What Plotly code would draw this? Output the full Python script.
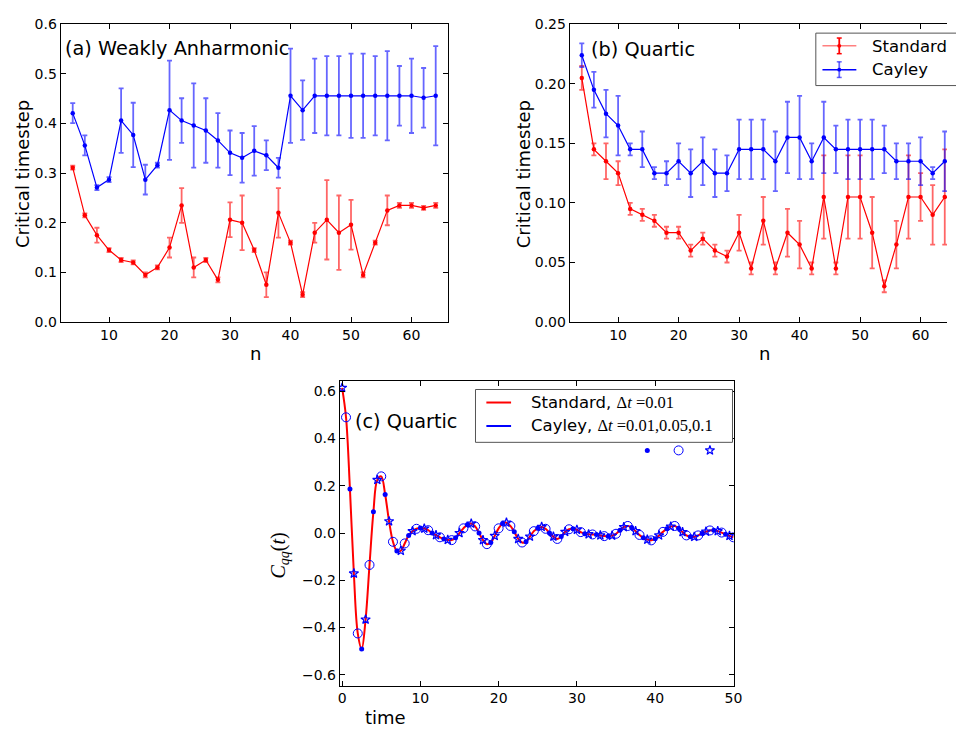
import numpy as np
import plotly.graph_objects as go

W, H = 956, 735
FONT = "DejaVu Sans"

# ---------------- data ----------------
n_vals = list(range(4, 66, 2))

a_cayley = [0.421, 0.356, 0.271, 0.287, 0.406, 0.377, 0.287, 0.316, 0.427, 0.406, 0.396,
            0.386, 0.366, 0.341, 0.331, 0.345, 0.336, 0.311, 0.456, 0.427, 0.456, 0.456,
            0.456, 0.456, 0.456, 0.456, 0.456, 0.456, 0.456, 0.452, 0.456]
a_cayley_err = [0.02, 0.02, 0.005, 0.005, 0.065, 0.065, 0.03, 0.005, 0.1, 0.045, 0.085,
                0.065, 0.055, 0.045, 0.05, 0.05, 0.03, 0.02, 0.095, 0.06, 0.075, 0.08,
                0.08, 0.085, 0.085, 0.08, 0.09, 0.06, 0.075, 0.06, 0.1]
a_standard = [0.311, 0.215, 0.175, 0.145, 0.125, 0.120, 0.095, 0.110, 0.150, 0.235, 0.110,
              0.125, 0.085, 0.206, 0.200, 0.145, 0.075, 0.220, 0.160, 0.055, 0.180, 0.206,
              0.180, 0.196, 0.095, 0.160, 0.225, 0.235, 0.235, 0.230, 0.235]
a_standard_err = [0.004, 0.004, 0.015, 0.004, 0.004, 0.004, 0.005, 0.004, 0.02, 0.035, 0.02,
                  0.004, 0.005, 0.035, 0.055, 0.004, 0.025, 0.05, 0.004, 0.005, 0.02, 0.08,
                  0.075, 0.05, 0.005, 0.004, 0.03, 0.005, 0.005, 0.004, 0.005]

b_cayley = [0.224, 0.195, 0.175, 0.165, 0.145, 0.145, 0.125, 0.125, 0.135, 0.125, 0.135,
            0.125, 0.125, 0.145, 0.145, 0.145, 0.135, 0.155, 0.155, 0.135, 0.155, 0.145,
            0.145, 0.145, 0.145, 0.145, 0.135, 0.135, 0.135, 0.125, 0.135]
b_cayley_err = [0.01, 0.015, 0.02, 0.025, 0.005, 0.015, 0.005, 0.01, 0.015, 0.02, 0.02,
                0.02, 0.015, 0.025, 0.025, 0.025, 0.025, 0.03, 0.035, 0.015, 0.03, 0.02,
                0.025, 0.025, 0.025, 0.02, 0.015, 0.015, 0.02, 0.005, 0.025]
b_standard = [0.205, 0.145, 0.135, 0.125, 0.095, 0.090, 0.085, 0.075, 0.075, 0.060, 0.070,
              0.060, 0.055, 0.075, 0.045, 0.085, 0.045, 0.075, 0.065, 0.045, 0.105, 0.045,
              0.105, 0.105, 0.075, 0.030, 0.065, 0.105, 0.105, 0.090, 0.105]
b_standard_err = [0.01, 0.005, 0.015, 0.01, 0.005, 0.005, 0.005, 0.005, 0.005, 0.005, 0.005,
                  0.005, 0.005, 0.015, 0.005, 0.02, 0.005, 0.02, 0.02, 0.005, 0.035, 0.005,
                  0.035, 0.035, 0.03, 0.005, 0.02, 0.035, 0.02, 0.025, 0.04]

# panel (c): C_qq(t) sampled every 0.5 time units
t_vals = np.arange(0, 50.01, 0.5)
cqq_vals = [0.615, 0.49, 0.186, -0.171, -0.425, -0.491, -0.366, -0.135, 0.090, 0.225,
            0.240, 0.163, 0.050, -0.037, -0.076, -0.075, -0.044, -0.010, 0.008, 0.018,
            0.021, 0.019, 0.012, 0.0, -0.009, -0.018, -0.025, -0.029, -0.030, -0.020,
            0.0, 0.020, 0.035, 0.040, 0.028, 0.0, -0.030, -0.047, -0.040, -0.012,
            0.020, 0.040, 0.044, 0.030, 0.005, -0.025, -0.040, -0.037, -0.015, 0.008,
            0.020, 0.026, 0.018, 0.0, -0.015, -0.025, -0.015, 0.005, 0.016, 0.018,
            0.014, 0.004, -0.003, -0.005, -0.006, -0.006, -0.010, -0.013, -0.014, -0.011,
            -0.003, 0.012, 0.025, 0.030, 0.024, 0.008, -0.008, -0.020, -0.028, -0.031,
            -0.024, -0.010, 0.005, 0.018, 0.027, 0.030, 0.020, 0.004, -0.010, -0.016,
            -0.016, -0.010, -0.002, 0.006, 0.011, 0.012, 0.008, 0.002, -0.005, -0.012,
            -0.018]
cqq = np.array(cqq_vals)
# Cayley samples (dt = 0.1 stars, 0.05 circles, 0.01 dots) lying on the curve
star_t, star_c = t_vals[0::3], cqq[0::3]
circ_t, circ_c = t_vals[1::3], cqq[1::3]
dot_t, dot_c = t_vals[2::3], cqq[2::3]
# marker key shown under the legend
key_t = [39, 43, 47]
key_c = [0.35, 0.35, 0.35]


def px(x):
    return x / W


def py(y):
    return 1 - y / H


RED = "rgb(255,0,0)"
BLUE = "rgb(0,0,255)"
RED_E = "rgba(255,0,0,0.6)"
BLUE_E = "rgba(0,0,255,0.6)"

fig = go.Figure()


def err_trace(x, y, e, col, ecol, xa, ya):
    return go.Scatter(x=x, y=y, mode="lines+markers", xaxis=xa, yaxis=ya,
                      line=dict(color=col, width=1.2),
                      marker=dict(color=col, size=4.5),
                      error_y=dict(type="data", array=e, color=ecol, thickness=1.8, width=2.5),
                      showlegend=False, cliponaxis=True)


fig.add_trace(err_trace(n_vals, a_cayley, a_cayley_err, BLUE, BLUE_E, "x", "y"))
fig.add_trace(err_trace(n_vals, a_standard, a_standard_err, RED, RED_E, "x", "y"))
fig.add_trace(err_trace(n_vals, b_standard, b_standard_err, RED, RED_E, "x2", "y2"))
fig.add_trace(err_trace(n_vals, b_cayley, b_cayley_err, BLUE, BLUE_E, "x2", "y2"))

DOT = dict(color=BLUE, size=5)
CIRC = dict(color=BLUE, size=9, symbol="circle-open", line=dict(width=1))
STAR = dict(color=BLUE, size=7, symbol="star-open", line=dict(width=1.2))

fig.add_trace(go.Scatter(x=t_vals, y=cqq, mode="lines", xaxis="x3", yaxis="y3",
                         line=dict(color=RED, width=2, shape="spline", smoothing=1.0),
                         showlegend=False))
for tt, cc, mk in [(dot_t, dot_c, DOT), (circ_t, circ_c, CIRC), (star_t, star_c, STAR),
                   (key_t[:1], key_c[:1], DOT), (key_t[1:2], key_c[1:2], CIRC),
                   (key_t[2:], key_c[2:], STAR)]:
    fig.add_trace(go.Scatter(x=tt, y=cc, mode="markers", xaxis="x3", yaxis="y3",
                             marker=mk, showlegend=False))

tickfont = dict(family=FONT, size=14, color="black")


def ax(**kw):
    d = dict(showline=True, linecolor="black", linewidth=1, mirror="allticks",
             ticks="inside", ticklen=5, tickwidth=1, tickcolor="black",
             showgrid=False, zeroline=False, tickfont=tickfont)
    d.update(kw)
    return d


fig.update_layout(
    width=W, height=H, margin=dict(l=0, r=0, t=0, b=0),
    paper_bgcolor="white", plot_bgcolor="white", showlegend=False,
    xaxis=ax(domain=[px(59.3), px(451)], range=[2, 66], dtick=10, tick0=0, anchor="y"),
    yaxis=ax(domain=[py(321), py(16.7)], range=[0, 0.6], dtick=0.1, tick0=0,
             tickformat=".1f", anchor="x"),
    xaxis2=ax(domain=[px(574.3), 1.0], range=[2, 2 + (W - 574.3) / 6.12], dtick=10, tick0=0,
              anchor="y2"),
    yaxis2=ax(domain=[py(321), py(16.7)], range=[0, 0.25], dtick=0.05, tick0=0,
              tickformat=".2f", anchor="x2", mirror=False),
    xaxis3=ax(domain=[px(341.7), px(740.3)], range=[-0.3, 50.05], dtick=10, tick0=0,
              anchor="y3"),
    yaxis3=ax(domain=[py(692.7), py(381)], range=[-0.646, 0.645], dtick=0.2, tick0=0,
              tickformat=".1f", anchor="x3"),
)

ann = []


def text(x, y, s, size=18, xanchor="center", angle=0, family=FONT):
    ann.append(dict(x=px(x), y=py(y), xref="paper", yref="paper", text=s, showarrow=False,
                    xanchor=xanchor, yanchor="middle", textangle=angle,
                    font=dict(family=family, size=size, color="black")))


# panel titles
text(62, 41, "(a) Weakly Anharmonic", size=19.3, xanchor="left")
text(594, 42, "(b) Quartic", size=19.3, xanchor="left")
text(355, 423, "(c) Quartic", size=19.3, xanchor="left")
# axis titles
text(21, 170, "Critical timestep", size=18, angle=-90)
text(527, 170, "Critical timestep", size=18, angle=-90)
text(256, 353, "n", size=18)
text(771, 353, "n", size=18)
text(388, 725, "time", size=18)
text(281, 560, "<i>C</i><sub><i>qq</i></sub>(<i>t</i>)", size=20, angle=-90,
     family="Liberation Serif")

MATH = "font-family:'Liberation Serif'"
text(533, 403, "Standard, <span style=\"%s\">Δ<i>t</i> =0.01</span>" % MATH, size=16.5,
     xanchor="left")
text(533, 427, "Cayley, <span style=\"%s\">Δ<i>t</i> =0.01,0.05,0.1</span>" % MATH, size=16.5,
     xanchor="left")
text(877.7, 39, "Standard", size=16.5, xanchor="left")
text(877.7, 63, "Cayley", size=16.5, xanchor="left")
fig.update_layout(annotations=ann)

shapes = []


def line(x0, y0, x1, y1, col, w=1):
    shapes.append(dict(type="line", xref="paper", yref="paper", x0=px(x0), y0=py(y0),
                       x1=px(x1), y1=py(y1), line=dict(color=col, width=w)))


def rect(x0, y0, x1, y1):
    shapes.append(dict(type="rect", xref="paper", yref="paper", x0=px(x0), y0=py(y0),
                       x1=px(x1), y1=py(y1), line=dict(color="#555555", width=1),
                       fillcolor="white", layer="above"))


def dot(x, y, col, r=2):
    shapes.append(dict(type="circle", xref="paper", yref="paper", x0=px(x - r), y0=py(y - r),
                       x1=px(x + r), y1=py(y + r), line=dict(color=col, width=0),
                       fillcolor=col, layer="above"))


# legend (c)
rect(479, 390, 739, 444)
line(490, 403.3, 515, 403.3, RED, 2)
line(490, 427.3, 515, 427.3, BLUE, 2)
# legend (b)
rect(823.3, 25.7, 1010, 79.3)
for yy, col, lcol, ecol in [(38.7, RED, "rgba(255,0,0,0.5)", RED),
                            (63, BLUE, BLUE, BLUE_E)]:
    line(830, yy, 864.3, yy, lcol, 1.5)
    line(847, yy - 8, 847, yy + 8, ecol, 1.8)
    line(844.5, yy - 8, 849.5, yy - 8, ecol, 1.5)
    line(844.5, yy + 8, 849.5, yy + 8, ecol, 1.5)
    dot(847, yy, col)
fig.update_layout(shapes=shapes)

fig.write_html("out.html")
